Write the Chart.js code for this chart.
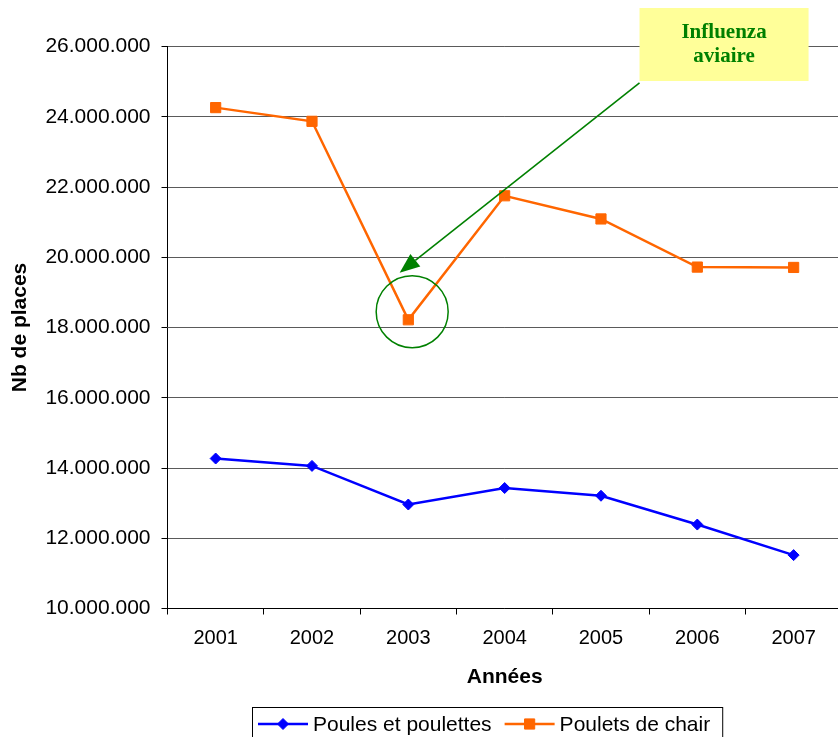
<!DOCTYPE html>
<html>
<head>
<meta charset="utf-8">
<script src="https://cdn.jsdelivr.net/npm/chart.js@4"></script>
<style>
html,body{margin:0;padding:0;overflow:hidden;background:#fff}
#c{display:block}
</style>
</head>
<body>
<canvas id="c" width="850" height="737"></canvas>
<script>
// ---- data ----
const years = ['2001', '2002', '2003', '2004', '2005', '2006', '2007'];
const poulesEtPoulettes = [14270000, 14060000, 12960000, 13430000, 13210000, 12390000, 11520000];
const pouletsDeChair = [24260000, 23870000, 18220000, 21750000, 21090000, 19720000, 19710000];
const yTickValues = [10000000, 12000000, 14000000, 16000000, 18000000, 20000000, 22000000, 24000000, 26000000];
const seriesLabels = ['Poules et poulettes', 'Poulets de chair'];
const yTitle = 'Nb de places';
const xTitle = 'Années';
const noteLines = ['Influenza', 'aviaire'];

function fmt(v) { return String(v).replace(/\B(?=(\d{3})+(?!\d))/g, '.'); }

const GREEN = '#008000';

// Annotation anchored in data units (category index, value)
const note = {
  box: { x0: 4.40, x1: 6.155, yTop: 27096000, yBottom: 25018000 },
  arrowTip: { x: 1.91, y: 19560000 },
  circle: { x: 2.04, y: 18450000, r: 36 }
};

const annotationPlugin = {
  id: 'note',
  afterDatasetsDraw(chart) {
    const ctx = chart.ctx, xs = chart.scales.x, ys = chart.scales.y;
    ctx.save();
    const cx = xs.getPixelForValue(note.circle.x), cy = ys.getPixelForValue(note.circle.y);
    ctx.strokeStyle = GREEN; ctx.lineWidth = 1.5;
    ctx.beginPath(); ctx.arc(cx, cy, note.circle.r, 0, Math.PI * 2); ctx.stroke();
    const bx0 = xs.getPixelForValue(note.box.x0), bx1 = xs.getPixelForValue(note.box.x1);
    const by0 = ys.getPixelForValue(note.box.yTop), by1 = ys.getPixelForValue(note.box.yBottom);
    ctx.fillStyle = '#FFFF99';
    ctx.fillRect(bx0, by0, bx1 - bx0, by1 - by0);
    ctx.fillStyle = GREEN;
    ctx.font = 'bold 21px "Liberation Serif", "Times New Roman", serif';
    ctx.textAlign = 'center'; ctx.textBaseline = 'middle';
    const mx = (bx0 + bx1) / 2;
    ctx.fillText(noteLines[0], mx, by0 + 25);
    ctx.fillText(noteLines[1], mx, by0 + 49);
    const sx = bx0, sy = by1 + 2;
    const tx = xs.getPixelForValue(note.arrowTip.x), ty = ys.getPixelForValue(note.arrowTip.y);
    const ang = Math.atan2(ty - sy, tx - sx);
    const len = 20, hw = 8;
    const bxp = tx - len * Math.cos(ang), byp = ty - len * Math.sin(ang);
    ctx.strokeStyle = GREEN; ctx.lineWidth = 1.6;
    ctx.beginPath(); ctx.moveTo(sx, sy); ctx.lineTo(bxp, byp); ctx.stroke();
    ctx.beginPath();
    ctx.moveTo(tx, ty);
    ctx.lineTo(bxp + hw * Math.sin(ang), byp - hw * Math.cos(ang));
    ctx.lineTo(bxp - hw * Math.sin(ang), byp + hw * Math.cos(ang));
    ctx.closePath(); ctx.fillStyle = GREEN; ctx.fill();
    ctx.restore();
  }
};

function drawMarker(ctx, style, x, y, r, color) {
  ctx.fillStyle = color; ctx.strokeStyle = color; ctx.lineWidth = 1;
  ctx.beginPath();
  if (style === 'rect') {
    const s = Math.SQRT1_2 * r;
    ctx.rect(x - s, y - s, 2 * s, 2 * s);
  } else {
    ctx.moveTo(x - r, y); ctx.lineTo(x, y - r); ctx.lineTo(x + r, y); ctx.lineTo(x, y + r); ctx.closePath();
  }
  ctx.fill(); ctx.stroke();
}

const legendPlugin = {
  id: 'boxLegend',
  afterDraw(chart) {
    const ctx = chart.ctx;
    ctx.save();
    ctx.font = '21px "Liberation Sans", Arial, sans-serif';
    ctx.textBaseline = 'middle'; ctx.textAlign = 'left';
    const left = 252, top = 707, y = 724;
    let x = left + 6;
    chart.data.datasets.forEach((ds) => {
      ctx.strokeStyle = ds.borderColor; ctx.lineWidth = 2.5;
      ctx.beginPath(); ctx.moveTo(x, y); ctx.lineTo(x + 50, y); ctx.stroke();
      drawMarker(ctx, ds.pointStyle, x + 25, y, ds.pointRadius, ds.borderColor);
      ctx.fillStyle = '#000';
      ctx.fillText(ds.label, x + 55, y + 1);
      x += 55 + ctx.measureText(ds.label).width + 13;
    });
    const right = x - 13 + 12;
    ctx.strokeStyle = '#000'; ctx.lineWidth = 1;
    ctx.strokeRect(left + 0.5, top + 0.5, right - left, 40);
    ctx.restore();
  }
};

new Chart(document.getElementById('c'), {
  type: 'line',
  data: {
    labels: years,
    datasets: [
      {
        label: seriesLabels[0],
        data: poulesEtPoulettes,
        borderColor: '#0000FF', backgroundColor: '#0000FF',
        borderWidth: 2.5, pointStyle: 'rectRot', pointRadius: 5.5, pointBorderWidth: 1,
        tension: 0, fill: false
      },
      {
        label: seriesLabels[1],
        data: pouletsDeChair,
        borderColor: '#FF6600', backgroundColor: '#FF6600',
        borderWidth: 2.5, pointStyle: 'rect', pointRadius: 7.2, pointBorderWidth: 1,
        tension: 0, fill: false
      }
    ]
  },
  options: {
    responsive: false,
    animation: false,
    devicePixelRatio: 1,
    layout: { padding: { top: 46.5, right: 4, bottom: 37, left: 0 } },
    plugins: { legend: { display: false }, tooltip: { enabled: false } },
    scales: {
      x: {
        offset: true,
        grid: { offset: true, drawOnChartArea: false, drawTicks: true, tickLength: 6, color: '#000', tickColor: '#000' },
        border: { display: true, color: '#000', width: 1 },
        ticks: { color: '#000', padding: 12, font: { family: '"Liberation Sans", Arial, sans-serif', size: 20 } },
        title: { display: true, text: xTitle, color: '#000', padding: { top: 0, bottom: 10 },
                 font: { family: '"Liberation Sans", Arial, sans-serif', size: 21, weight: 'bold' } },
        afterFit(s) { s.height = 91.5; }
      },
      y: {
        min: yTickValues[0], max: yTickValues[yTickValues.length - 1],
        afterBuildTicks(s) { s.ticks = yTickValues.map(v => ({ value: v })); },
        grid: { color: '#5a5a5a', lineWidth: 1, tickLength: 6, tickColor: '#000' },
        border: { display: true, color: '#000', width: 1 },
        ticks: { color: '#000', padding: 11, callback: v => fmt(v),
                 font: { family: '"Liberation Sans", Arial, sans-serif', size: 21 } },
        title: { display: true, text: yTitle, color: '#000', padding: { top: 8, bottom: 0 },
                 font: { family: '"Liberation Sans", Arial, sans-serif', size: 21, weight: 'bold' } },
        afterFit(s) { s.width = 167.5; }
      }
    }
  },
  plugins: [annotationPlugin, legendPlugin]
});
</script>
</body>
</html>
